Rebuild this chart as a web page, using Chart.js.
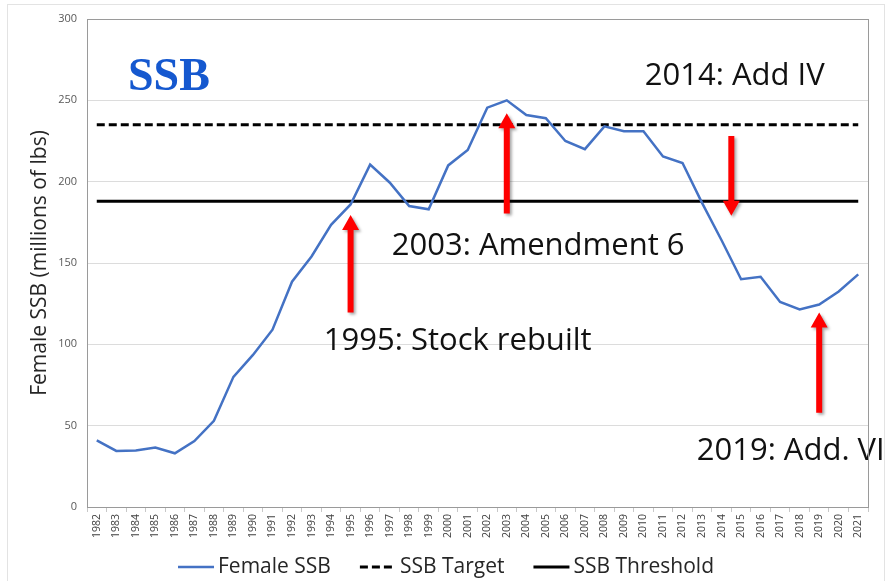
<!DOCTYPE html>
<html>
<head>
<meta charset="utf-8">
<title>Female SSB</title>
<script src="https://cdn.jsdelivr.net/npm/chart.js@4.4.1/dist/chart.umd.min.js"></script>
<style>
  html, body { margin: 0; padding: 0; background: #fff; }
  #wrap { position: relative; width: 892px; height: 581px; }
  #frame { position: absolute; left: 7px; top: 4px; width: 876px; height: 600px; border: 1px solid #e3e3e3; }
  canvas { position: absolute; left: 0; top: 0; }
</style>
</head>
<body>
<div id="wrap">
  <div id="frame"></div>
  <canvas id="ssbChart" width="892" height="581"></canvas>
</div>
<script>
// Years on the x axis
const years = ['1982', '1983', '1984', '1985', '1986', '1987', '1988', '1989', '1990', '1991',
  '1992', '1993', '1994', '1995', '1996', '1997', '1998', '1999', '2000', '2001',
  '2002', '2003', '2004', '2005', '2006', '2007', '2008', '2009', '2010', '2011',
  '2012', '2013', '2014', '2015', '2016', '2017', '2018', '2019', '2020', '2021'];

// Female SSB, millions of lbs
const femaleSSB = [41, 34.5, 34.7, 36.5, 33, 40.5, 53, 80, 93.5, 109,
  138.5, 154, 173.5, 186, 210.5, 199.5, 185, 183, 210, 219.5,
  245.5, 250, 241, 239, 225, 220, 234, 231, 231, 215.5,
  211.5, 187, 164, 140, 141.5, 126, 121.5, 124.5, 132.5, 143];

// Reference levels
const ssbTarget = 235;
const ssbThreshold = 188;

// y axis ticks
const yMin = 0;
const yMax = 300;
const yStep = 50;

// Red arrows: year position, start value, tip value
const arrowYears = [1995, 2003, 2014.5, 2019];
const arrowFrom = [119.5, 180.5, 228, 58];
const arrowTo = [179.5, 242, 179, 119.5];

// Text notes: text, year position (left edge), value (baseline)
const noteTexts = ['2014: Add IV', '2003: Amendment 6', '1995: Stock rebuilt', '2019: Add. VI'];
const noteYears = [2010.07, 1997.11, 1993.63, 2012.73];
const noteValues = [259.4, 154.9, 96.5, 28.9];

// Big blue heading inside the plot
const headingText = 'SSB';
const headingYear = 1983.6;
const headingValue = 256.3;

const firstYear = Number(years[0]);

// Gray border round the plot area
const plotBorder = {
  id: 'plotBorder',
  afterDraw(chart) {
    const { ctx, chartArea } = chart;
    ctx.save();
    ctx.strokeStyle = '#9a9a9a';
    ctx.lineWidth = 1;
    ctx.strokeRect(chartArea.left + 0.5, chartArea.top + 0.5, chartArea.right - chartArea.left, chartArea.bottom - chartArea.top);
    ctx.restore();
  }
};

// Arrows and text notes
const notes = {
  id: 'notes',
  afterDatasetsDraw(chart) {
    const { ctx } = chart;
    const xs = chart.scales.x;
    const ys = chart.scales.y;

    // arrows
    arrowYears.forEach((yr, i) => {
      const x = xs.getPixelForValue(yr - firstYear);
      const y0 = ys.getPixelForValue(arrowFrom[i]);
      const y1 = ys.getPixelForValue(arrowTo[i]);
      const dir = y1 < y0 ? -1 : 1;
      const head = 15;
      const halfHead = 8.5;
      const halfShaft = 3;
      const yh = y1 - dir * head;
      ctx.save();
      ctx.shadowColor = 'rgba(0,0,0,0.35)';
      ctx.shadowBlur = 3;
      ctx.shadowOffsetX = 2;
      ctx.shadowOffsetY = 2;
      ctx.fillStyle = '#ff0000';
      ctx.beginPath();
      ctx.moveTo(x - halfShaft, y0);
      ctx.lineTo(x - halfShaft, yh);
      ctx.lineTo(x - halfHead, yh);
      ctx.lineTo(x, y1);
      ctx.lineTo(x + halfHead, yh);
      ctx.lineTo(x + halfShaft, yh);
      ctx.lineTo(x + halfShaft, y0);
      ctx.closePath();
      ctx.fill();
      ctx.restore();
    });

    // notes
    ctx.save();
    ctx.fillStyle = '#111111';
    ctx.font = '31px "Open Sans"';
    ctx.textAlign = 'left';
    ctx.textBaseline = 'alphabetic';
    noteTexts.forEach((t, i) => {
      ctx.fillText(t, xs.getPixelForValue(noteYears[i] - firstYear), ys.getPixelForValue(noteValues[i]));
    });
    ctx.fillStyle = '#1558cf';
    ctx.font = 'bold 46px "Liberation Serif"';
    ctx.fillText(headingText, xs.getPixelForValue(headingYear - firstYear), ys.getPixelForValue(headingValue));
    ctx.restore();
  }
};

// Legend drawn from the datasets, centred under the chart
const lineLegend = {
  id: 'lineLegend',
  afterDraw(chart) {
    const { ctx } = chart;
    const sets = chart.data.datasets;
    const lineW = 36, gap = 4, spacing = 29;
    const y = 567;
    ctx.save();
    ctx.font = '21px "Open Sans"';
    ctx.textBaseline = 'middle';
    ctx.textAlign = 'left';
    const widths = sets.map(ds => lineW + gap + ctx.measureText(ds.label).width);
    const total = widths.reduce((a, b) => a + b, 0) + spacing * (sets.length - 1);
    let x = (chart.width - total) / 2;
    sets.forEach((ds, i) => {
      ctx.strokeStyle = ds.borderColor;
      ctx.lineWidth = ds.borderWidth;
      ctx.setLineDash(ds.borderDash || []);
      ctx.beginPath();
      ctx.moveTo(x, y);
      ctx.lineTo(x + lineW, y);
      ctx.stroke();
      ctx.setLineDash([]);
      ctx.fillStyle = '#262626';
      ctx.fillText(ds.label, x + lineW + gap, y);
      x += widths[i] + spacing;
    });
    ctx.restore();
  }
};

const ctx = document.getElementById('ssbChart').getContext('2d');

new Chart(ctx, {
  type: 'line',
  data: {
    labels: years,
    datasets: [
      {
        label: 'Female SSB',
        data: femaleSSB,
        borderColor: '#4472c4',
        backgroundColor: '#4472c4',
        borderWidth: 2.5,
        pointRadius: 0,
        tension: 0
      },
      {
        label: 'SSB Target',
        data: years.map(() => ssbTarget),
        borderColor: '#000000',
        backgroundColor: '#000000',
        borderWidth: 3,
        borderDash: [8, 4],
        pointRadius: 0
      },
      {
        label: 'SSB Threshold',
        data: years.map(() => ssbThreshold),
        borderColor: '#000000',
        backgroundColor: '#000000',
        borderWidth: 3,
        pointRadius: 0
      }
    ]
  },
  options: {
    responsive: false,
    animation: false,
    layout: { padding: { left: 0, right: 24, top: 19, bottom: 28 } },
    scales: {
      x: {
        offset: true,
        grid: { offset: true, drawOnChartArea: false, drawTicks: true, tickLength: 5, color: '#c8c8c8' },
        border: { color: '#9a9a9a' },
        ticks: {
          autoSkip: false, minRotation: 90, maxRotation: 90, padding: 2,
          color: '#404040', font: { family: 'Open Sans', size: 10.5 }
        },
        afterFit(scale) { scale.height = 46; }
      },
      y: {
        min: yMin,
        max: yMax,
        grid: { color: '#dcdcdc', drawTicks: false },
        border: { color: '#9a9a9a' },
        ticks: {
          stepSize: yStep, padding: 10,
          color: '#595959', font: { family: 'Open Sans', size: 11 }
        },
        title: {
          display: true,
          text: 'Female SSB (millions of lbs)',
          color: '#262626',
          font: { family: 'Open Sans', size: 21 },
          padding: { top: 27, bottom: 0 }
        },
        afterFit(scale) { scale.width = 87; }
      }
    },
    plugins: {
      legend: { display: false },
      tooltip: { enabled: false }
    }
  },
  plugins: [plotBorder, notes, lineLegend]
});
</script>
</body>
</html>
